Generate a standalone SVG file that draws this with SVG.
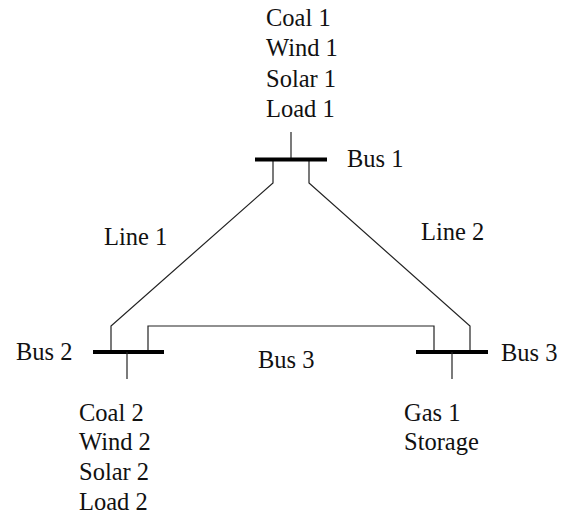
<svg xmlns="http://www.w3.org/2000/svg" width="567" height="518" viewBox="0 0 567 518">
  <style>
    text { font-family: "Liberation Serif", "Times New Roman", serif; font-size: 24.5px; fill: #111; }
    .bar { stroke: #000; stroke-width: 4; fill: none; }
    .wire { stroke: #222; stroke-width: 1.2; fill: none; }
  </style>
  <rect width="567" height="518" fill="#fff"/>

  <g id="connectors">
    <!-- Line 1: Bus 1 to Bus 2 -->
    <polyline class="wire" points="273,160 273,183 111,326 111,352"/>
    <!-- Line 2: Bus 1 to Bus 3 -->
    <polyline class="wire" points="309,160 309,183 470,326 470,352"/>
    <!-- Bus 2 to Bus 3 -->
    <polyline class="wire" points="148,352 148,326 434,326 434,352"/>
  </g>

  <g id="bus1">
    <line class="wire" x1="291" y1="132" x2="291" y2="159"/>
    <line class="bar" x1="255" y1="159.5" x2="327" y2="159.5"/>
    <text x="347" y="167">Bus 1</text>
    <text x="266" y="26">Coal 1</text>
    <text x="266" y="56">Wind 1</text>
    <text x="266" y="87">Solar 1</text>
    <text x="266" y="117">Load 1</text>
  </g>

  <g id="bus2">
    <line class="bar" x1="93" y1="352" x2="164" y2="352"/>
    <line class="wire" x1="127" y1="352" x2="127" y2="379"/>
    <text x="16" y="360">Bus 2</text>
    <text x="79" y="421">Coal 2</text>
    <text x="79" y="450">Wind 2</text>
    <text x="79" y="480">Solar 2</text>
    <text x="79" y="510">Load 2</text>
  </g>

  <g id="bus3">
    <line class="bar" x1="416" y1="352" x2="488" y2="352"/>
    <line class="wire" x1="452" y1="352" x2="452" y2="379"/>
    <text x="501" y="361">Bus 3</text>
    <text x="404" y="421">Gas 1</text>
    <text x="404" y="450">Storage</text>
  </g>

  <g id="labels">
    <text x="104" y="245">Line 1</text>
    <text x="421" y="240">Line 2</text>
    <text x="258" y="368">Bus 3</text>
  </g>
</svg>
